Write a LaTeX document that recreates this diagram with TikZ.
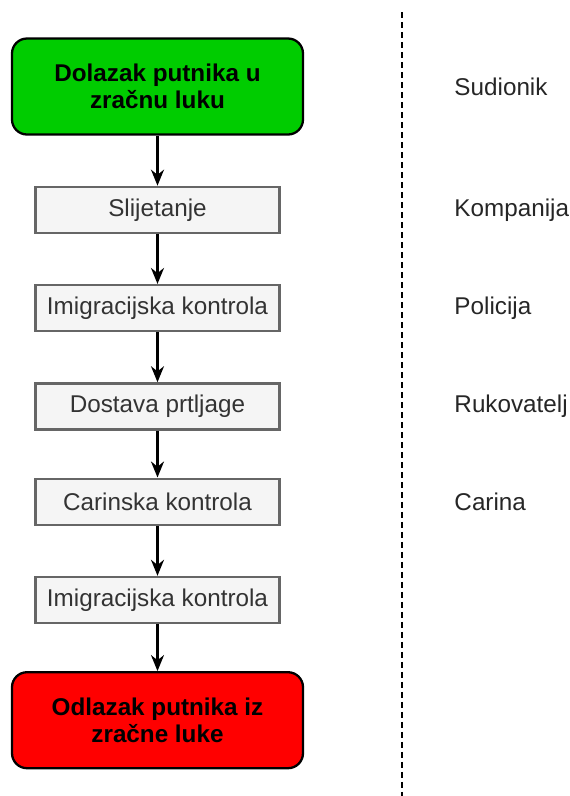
\documentclass[tikz,border=0pt]{standalone}
\usepackage{fontspec}
\setmainfont{Liberation Sans}
\usetikzlibrary{positioning, arrows.meta}
\definecolor{startgreen}{HTML}{00CC00}
\definecolor{stepgray}{HTML}{F5F5F5}
\definecolor{stepborder}{HTML}{666666}
\definecolor{steptext}{HTML}{333333}
\tikzstyle{terminal} = [
    rectangle,
    draw,
    line width = 1.3pt,
    align = center,
    rounded corners = 0.3cm,
    font = \fontsize{13.8}{15.5}\selectfont\bfseries,
    minimum width = 5.82cm,
    minimum height = 1.92cm
]
\tikzstyle{stage} = [
    rectangle,
    draw = stepborder,
    fill = stepgray,
    line width = 1.3pt,
    text = steptext,
    text centered,
    font = \fontsize{13.8}{16}\selectfont,
    minimum width = 4.88cm,
    minimum height = 0.92cm
]
\tikzstyle{actor} = [
    anchor = west,
    inner sep = 0pt,
    text = black!85,
    font = \fontsize{13.8}{16}\selectfont
]
\tikzstyle{flow} = [
    -{Stealth[length = 0.32cm, width = 0.26cm]},
    line width = 1.3pt
]

\begin{document}
\begin{tikzpicture}

                \useasboundingbox (0,0) rectangle (11.4,-15.92);

                % process
                \node [terminal, fill = startgreen] (arrival) at (3.15,-1.73) {Dolazak putnika u\\zračnu luku};
                \node [stage, below = 1cm of arrival] (landing) {Slijetanje};
                \node [stage, below = 1cm of landing] (immig1) {Imigracijska kontrola};
                \node [stage, below = 1cm of immig1] (baggage) {Dostava prtljage};
                \node [stage, below = 0.94cm of baggage] (customs) {Carinska kontrola};
                \node [stage, below = 1cm of customs] (immig2) {Imigracijska kontrola};
                \node [terminal, fill = red, below = 0.94cm of immig2] (departure) {Odlazak putnika iz\\zračne luke};

                \draw [flow] (arrival) -- (landing);
                \draw [flow] (landing) -- (immig1);
                \draw [flow] (immig1) -- (baggage);
                \draw [flow] (baggage) -- (customs);
                \draw [flow] (customs) -- (immig2);
                \draw [flow] (immig2) -- (departure);

                % separator
                \coordinate (sepTop) at (8.04,-0.24);
                \coordinate (sepBottom) at (8.04,-15.92);
                \draw [line width = 1.2pt, dash pattern = on 0.12cm off 0.08cm] (sepTop) -- (sepBottom);

                % participants
                \node [actor, right = 3cm of arrival.east] (participant) {Sudionik};
                \node [actor] (airline) at (participant.west |- landing) {Kompanija};
                \node [actor] (police) at (participant.west |- immig1) {Policija};
                \node [actor] (handler) at (participant.west |- baggage) {Rukovatelj};
                \node [actor] (customsOffice) at (participant.west |- customs) {Carina};

            \end{tikzpicture}
\end{document}
